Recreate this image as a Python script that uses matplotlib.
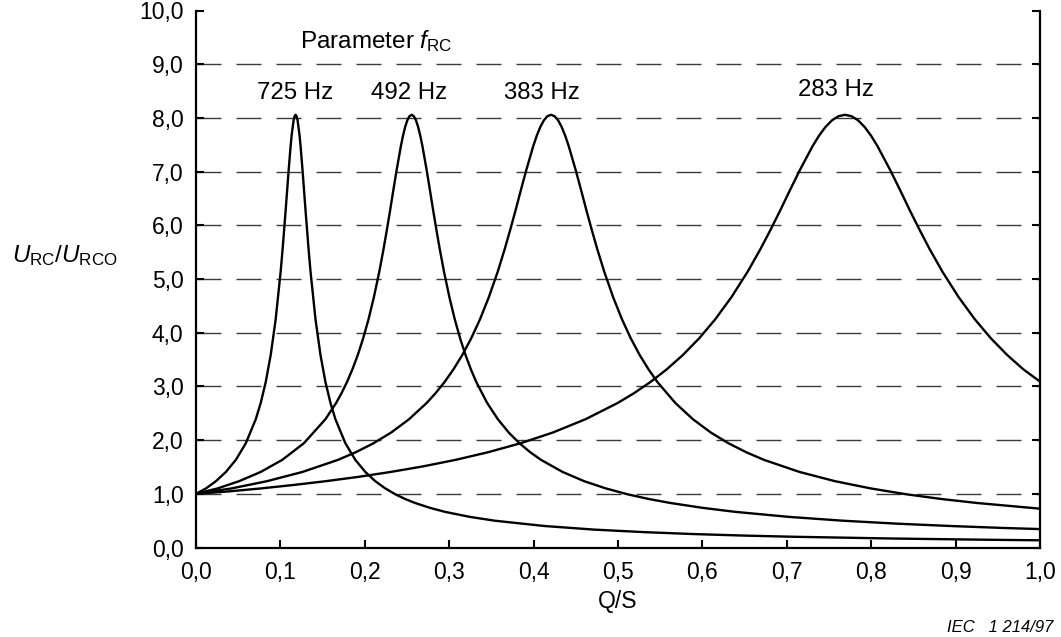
import matplotlib
matplotlib.use("Agg")
import matplotlib.pyplot as plt

plt.rcParams['font.family'] = ['Liberation Sans', 'DejaVu Sans']
plt.rcParams['mathtext.fontset'] = 'custom'
plt.rcParams['mathtext.rm'] = 'Liberation Sans'
plt.rcParams['mathtext.it'] = 'Liberation Sans:italic'
plt.rcParams['mathtext.bf'] = 'Liberation Sans:bold'

# ---- data ----
x_725 = [0, 0.0118, 0.0236, 0.0354, 0.0472, 0.059, 0.0708, 0.0767, 0.0826, 0.0885,
         0.0944, 0.1003, 0.10266, 0.1062, 0.10974, 0.1121, 0.11328, 0.11564, 0.11682,
         0.118, 0.11918, 0.12036, 0.12272, 0.1239, 0.12626, 0.1298, 0.13334, 0.1357,
         0.1416, 0.1475, 0.1534, 0.1593, 0.1652, 0.177, 0.1888, 0.2006, 0.2124, 0.2242,
         0.236, 0.2478, 0.2596, 0.2773, 0.295, 0.3245, 0.354, 0.413, 0.472, 0.531,
         0.59, 0.649, 0.708, 0.826, 0.944, 1.0]
y_725 = [1.0, 1.10, 1.235, 1.407, 1.632, 1.941, 2.388, 2.693, 3.080, 3.583,
         4.249, 5.137, 5.565, 6.274, 7.019, 7.474, 7.670, 7.956, 8.032,
         8.058, 8.032, 7.956, 7.670, 7.474, 7.019, 6.274, 5.565, 5.137,
         4.249, 3.583, 3.080, 2.693, 2.388, 1.941, 1.632, 1.407, 1.235, 1.101,
         0.992, 0.903, 0.829, 0.738, 0.664, 0.570, 0.499, 0.400, 0.333, 0.286,
         0.250, 0.222, 0.200, 0.167, 0.143, 0.134]

x_492 = [0, 0.02555, 0.0511, 0.07665, 0.1022, 0.12775, 0.1533, 0.16608, 0.17246, 0.17885,
         0.18524, 0.19163, 0.19801, 0.2044, 0.21079, 0.21718, 0.22229, 0.22612, 0.22995,
         0.23378, 0.23762, 0.24273, 0.24528, 0.24784, 0.25039, 0.25295, 0.2555, 0.25806,
         0.26061, 0.26317, 0.26572, 0.26828, 0.27339, 0.27722, 0.28105, 0.28488, 0.28872,
         0.29383, 0.30021, 0.3066, 0.31299, 0.31938, 0.32576, 0.33215, 0.34493, 0.3577,
         0.37048, 0.38325, 0.39603, 0.4088, 0.43435, 0.4599, 0.48545, 0.511, 0.53655,
         0.5621, 0.60043, 0.63875, 0.70263, 0.7665, 0.83038, 0.89425, 0.95813, 1.0]
y_492 = [1.0, 1.10, 1.235, 1.407, 1.632, 1.941, 2.388, 2.693, 2.875, 3.080,
         3.315, 3.583, 3.892, 4.249, 4.663, 5.137, 5.565, 5.912, 6.274,
         6.651, 7.019, 7.474, 7.670, 7.833, 7.956, 8.032, 8.058, 8.032,
         7.956, 7.833, 7.670, 7.474, 7.019, 6.651, 6.274, 5.912, 5.565,
         5.137, 4.663, 4.249, 3.892, 3.583, 3.315, 3.080, 2.693, 2.388,
         2.142, 1.941, 1.774, 1.632, 1.407, 1.235, 1.101, 0.992, 0.903,
         0.829, 0.738, 0.664, 0.570, 0.499, 0.444, 0.400, 0.363, 0.343]

x_383 = [0, 0.04206, 0.08412, 0.12618, 0.16824, 0.18927, 0.2103, 0.23133, 0.25236, 0.27339,
         0.28391, 0.29442, 0.30494, 0.31545, 0.32597, 0.33648, 0.347, 0.35751, 0.36592,
         0.37223, 0.37854, 0.38485, 0.39116, 0.39957, 0.40378, 0.40798, 0.41219, 0.41639,
         0.4206, 0.42481, 0.42901, 0.43322, 0.43742, 0.44163, 0.45004, 0.45635, 0.46266,
         0.46897, 0.47528, 0.48369, 0.49421, 0.50472, 0.51524, 0.52575, 0.53627, 0.54678,
         0.56781, 0.58884, 0.60987, 0.6309, 0.65193, 0.67296, 0.71502, 0.75708, 0.79914,
         0.8412, 0.88326, 0.92532, 1.0]
y_383 = [1.0, 1.10, 1.235, 1.407, 1.632, 1.774, 1.941, 2.142, 2.388, 2.693,
         2.875, 3.080, 3.315, 3.583, 3.892, 4.249, 4.663, 5.137, 5.565,
         5.912, 6.274, 6.651, 7.019, 7.474, 7.670, 7.833, 7.956, 8.032,
         8.058, 8.032, 7.956, 7.833, 7.670, 7.474, 7.019, 6.651, 6.274,
         5.912, 5.565, 5.137, 4.663, 4.249, 3.892, 3.583, 3.315, 3.080,
         2.693, 2.388, 2.142, 1.941, 1.774, 1.632, 1.407, 1.235, 1.101,
         0.992, 0.903, 0.829, 0.723]

x_283 = [0, 0.03845, 0.0769, 0.11535, 0.1538, 0.19225, 0.2307, 0.26915, 0.3076, 0.34605,
         0.3845, 0.42295, 0.4614, 0.49985, 0.51908, 0.5383, 0.55753, 0.57675, 0.59598,
         0.6152, 0.63443, 0.65365, 0.66903, 0.68057, 0.6921, 0.70364, 0.71517, 0.73055,
         0.73824, 0.74593, 0.75362, 0.76131, 0.769, 0.77669, 0.78438, 0.79207, 0.79976,
         0.80745, 0.82283, 0.83437, 0.8459, 0.85744, 0.86897, 0.88435, 0.90358, 0.9228,
         0.94203, 0.96125, 0.98048, 1.0]
y_283 = [1.0, 1.044, 1.10, 1.164, 1.235, 1.315, 1.407, 1.511, 1.632, 1.774,
         1.941, 2.142, 2.388, 2.693, 2.875, 3.080, 3.315, 3.583, 3.892,
         4.249, 4.663, 5.137, 5.565, 5.912, 6.274, 6.651, 7.019, 7.474,
         7.670, 7.833, 7.956, 8.032, 8.058, 8.032, 7.956, 7.833, 7.670,
         7.474, 7.019, 6.651, 6.274, 5.912, 5.565, 5.137, 4.663, 4.249,
         3.892, 3.583, 3.315, 3.090]

curve_labels = ["725 Hz", "492 Hz", "383 Hz", "283 Hz"]
label_x = [0.117, 0.253, 0.410, 0.758]
label_y = [8.47, 8.47, 8.47, 8.52]

x_ticks = [0.0, 0.1, 0.2, 0.3, 0.4, 0.5, 0.6, 0.7, 0.8, 0.9, 1.0]
x_ticklabels = ["0,0", "0,1", "0,2", "0,3", "0,4", "0,5", "0,6", "0,7", "0,8", "0,9", "1,0"]
y_ticks = [0, 1, 2, 3, 4, 5, 6, 7, 8, 9, 10]
y_ticklabels = ["0,0", "1,0", "2,0", "3,0", "4,0", "5,0", "6,0", "7,0", "8,0", "9,0", "10,0"]
grid_levels = [1, 2, 3, 4, 5, 6, 7, 8, 9]

# ---- figure ----
fig = plt.figure(figsize=(10.61, 6.37), dpi=100)
ax = fig.add_axes([196 / 1061, 1 - 547.5 / 637, 844 / 1061, 537 / 637])

for g in grid_levels:
    ax.axhline(g, color='#3a3a3a', lw=1.0, linestyle=(0, (18, 10.8)), zorder=1)

for xs, ys in [(x_725, y_725), (x_492, y_492), (x_383, y_383), (x_283, y_283)]:
    ax.plot(xs, ys, color='black', lw=1.7, solid_joinstyle='round', zorder=3)

ax.set_xlim(0, 1)
ax.set_ylim(0, 10)
ax.set_xticks(x_ticks)
ax.set_xticklabels(x_ticklabels)
ax.set_yticks(y_ticks)
ax.set_yticklabels(y_ticklabels)
ax.tick_params(axis='both', direction='in', length=6, width=1.5, labelsize=16.5,
               colors='black')
ax.tick_params(axis='y', right=True, pad=9)
ax.tick_params(axis='x', pad=10)
for s in ['left', 'bottom', 'right']:
    ax.spines[s].set_linewidth(1.6)
ax.spines['top'].set_visible(False)

for lab, lx, ly in zip(curve_labels, label_x, label_y):
    ax.text(lx, ly, lab, ha='center', va='center', fontsize=17.3)

ax.text(0.123, 9.43, r'Parameter $f_{\mathrm{RC}}$', ha='left', va='center', fontsize=17.5)

ax.set_xlabel('Q/S', fontsize=16.5, labelpad=4)

fig.text(12 / 1061, 1 - 256 / 637, r'$U_{\mathrm{RC}}/U_{\mathrm{RCO}}$',
         ha='left', va='center', fontsize=17.5)

fig.text(1053 / 1061, 1 - 628 / 637, 'IEC   1 214/97', ha='right', va='center',
         fontsize=12, style='italic')

fig.savefig('out.png', dpi=100)
